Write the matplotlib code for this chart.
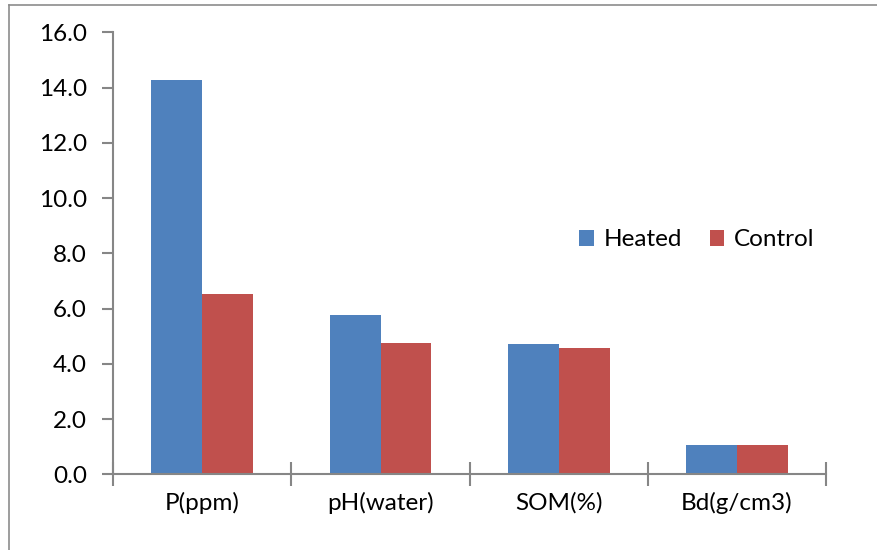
import matplotlib
matplotlib.use("Agg")
from matplotlib import pyplot as plt
from matplotlib.lines import Line2D
from matplotlib.patches import Patch
import numpy as np

plt.rcParams['font.family'] = ['Lato', 'DejaVu Sans']

categories = ['P(ppm)', 'pH(water)', 'SOM(%)', 'Bd(g/cm3)']
heated = [14.26, 5.77, 4.71, 1.05]
control = [6.52, 4.75, 4.56, 1.06]
series_names = ['Heated', 'Control']

blue = '#4f81bd'
red = '#c0504d'
axis_grey = '#868686'
fs = 17.5

fig = plt.figure(figsize=(8.78, 5.5), dpi=100)
ax = fig.add_axes([113.3/878, 1-474.3/550, (826-113.3)/878, (474.3-32.3)/550])

x = np.arange(len(categories))
w = 1/3.5
ax.bar(x - w/2, heated, w, color=blue, edgecolor='none')
ax.bar(x + w/2, control, w, color=red, edgecolor='none')

ax.set_xlim(-0.5, len(categories) - 0.5)
ax.set_ylim(0, 16)
ax.set_yticks(np.arange(0, 16.1, 2))
ax.set_yticklabels([f'{v:.1f}' for v in np.arange(0, 16.1, 2)])

# category labels sit between the cross ticks
ax.set_xticks(x)
ax.set_xticklabels(categories)
ax.tick_params(axis='x', length=0, pad=13, labelsize=fs)
ax.set_xticks(np.arange(-0.5, len(categories)), minor=True)
ax.tick_params(axis='x', which='minor', direction='inout', length=17,
               width=1.5, color=axis_grey)
ax.tick_params(axis='y', direction='out', length=8, width=1.5,
               color=axis_grey, labelsize=fs, pad=11)

for s in ['top', 'right']:
    ax.spines[s].set_visible(False)
for s in ['left', 'bottom']:
    ax.spines[s].set_color(axis_grey)
    ax.spines[s].set_linewidth(1.5)

handles = [Patch(facecolor=blue, label=series_names[0]),
           Patch(facecolor=red, label=series_names[1])]
ax.legend(handles=handles, loc='center', bbox_to_anchor=(697/878, 1-240/550),
          bbox_transform=fig.transFigure, ncol=2, frameon=False, fontsize=fs,
          handlelength=0.6, handleheight=0.6, handletextpad=0.4,
          columnspacing=1.15)

# outer chart frame, cut off at the right and bottom
fig.add_artist(Line2D([9/878, 9/878], [0, 1-5/550], color='#8c8c8c', lw=1.2))
fig.add_artist(Line2D([9/878, 1], [1-5/550, 1-5/550], color='#8c8c8c', lw=1.2))

fig.savefig('out.png', dpi=100)
